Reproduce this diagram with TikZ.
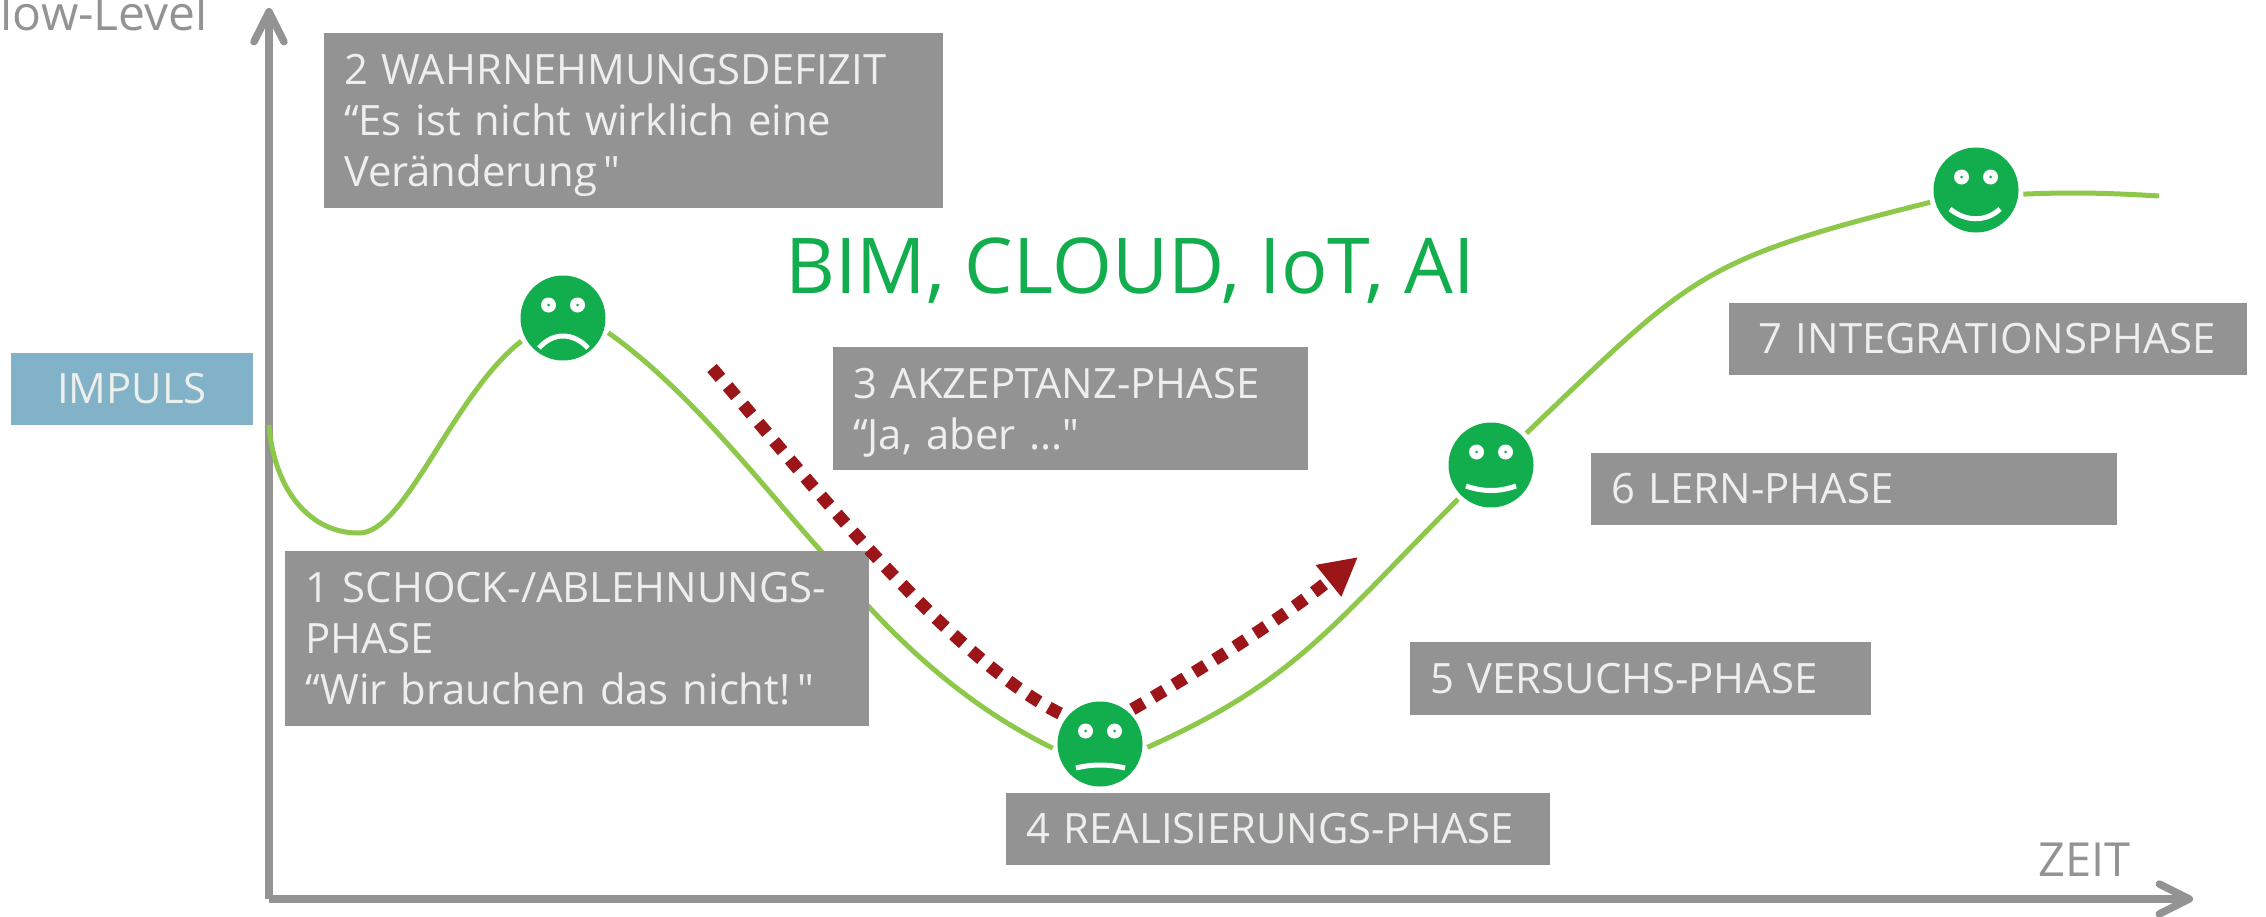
\documentclass[tikz,border=0pt]{standalone}
\usepackage{fontspec}
\newfontfamily\chartfont{Open Sans}
\usetikzlibrary{arrows.meta}
\definecolor{boxgray}{HTML}{939393}
\definecolor{boxtext}{HTML}{EDEFED}
\definecolor{facegreen}{HTML}{12AE4E}
\definecolor{curvegreen}{HTML}{8DC84B}
\definecolor{impulsblue}{HTML}{82B2C7}
\definecolor{dotred}{HTML}{9C1519}

\begin{document}
\begin{tikzpicture}[
    x=1pt, y=-1pt,
    phasenode/.style={fill=boxgray, text=boxtext, font=\chartfont\fontsize{41.8}{51}\selectfont, align=left, anchor=north west, inner xsep=20pt, inner ysep=0pt, outer sep=0pt},
    facenode/.style={circle, fill=facegreen, minimum size=85pt, inner sep=0pt, outer sep=5pt},
    eyenode/.style={circle, fill=white, minimum size=15pt, inner sep=0pt, path picture={\fill[facegreen] (path picture bounding box.center) circle (1.5pt);}},
    mouthline/.style={draw=white, line width=5pt},
    curveline/.style={draw=curvegreen, line width=5pt},
    dotline/.style={draw=dotred, line width=12.5pt, dash pattern=on 13pt off 11pt},
    axisline/.style={draw=boxgray, line width=7.5pt},
    axistext/.style={text=boxgray, font=\chartfont\fontsize{47}{56}\selectfont, inner sep=0pt}
    ]
    \useasboundingbox (0,0) rectangle (2266,916);

    %Axes
    \coordinate (origin) at (269,899);
    \coordinate (ytip) at (269,8);
    \coordinate (xtip) at (2193,899);
    \draw[axisline, -{Straight Barb[round,length=30pt,width=30pt]}] (origin) -- (ytip);
    \draw[axisline, -{Straight Barb[round,length=30pt,width=30pt]}] (origin) -- (xtip);
    \node[axistext, font=\chartfont\fontsize{48}{60}\selectfont, anchor=base east] (flow) at (208,30) {Flow-Level};
    \node[axistext, anchor=base east] (zeit) at (2131,876) {ZEIT};

    %Faces
    \node[facenode] (F1) at (563,318) {};
    \node[facenode] (F4) at (1100,744) {};
    \node[facenode] (F6) at (1491,465) {};
    \node[facenode] (F7) at (1976,190) {};

    %Curve
    \coordinate (start) at (269,425);
    \coordinate (dip) at (358,533);
    \coordinate (down) at (821,551);
    \coordinate (stop) at (2159,196);
    \draw[curveline] (start) .. controls (274,490) and (310,533) .. (dip);
    \draw[curveline] (dip) .. controls (405,535) and (452,395) .. (F1.209);
    \draw[curveline] (F1.-18) .. controls (690,390) and (770,495) .. (down);
    \draw[curveline] (down) .. controls (900,650) and (975,710) .. (F4.185);
    \draw[curveline] (F4.-4) .. controls (1294,682) and (1331,627) .. (F6.226);
    \draw[curveline] (F6.42) .. controls (1693,274) and (1699,260) .. (F7.195);
    \draw[curveline] (F7.-5) .. controls (2070,192) and (2110,193) .. (stop);

    %Boxes
    \node[phasenode, minimum height=175pt, text width=544pt] (phase1) at (285,551) {1 SCHOCK-/ABLEHNUNGS-\\PHASE\\\smash{“Wir brauchen das nicht!\,"}};
    \node[phasenode, minimum height=175pt, text width=579pt] (phase2) at (324,33) {2 WAHRNEHMUNGSDEFIZIT\\“Es ist nicht wirklich eine\\\smash{Veränderung\,"}};
    \node[phasenode, minimum height=123pt, text width=435pt] (phase3) at (833,347) {3 AKZEPTANZ-PHASE\\\smash{“Ja, aber ..."}};
    \node[phasenode, minimum height=72pt, text width=504pt] (phase4) at (1006,793) {4 REALISIERUNGS-PHASE};
    \node[phasenode, minimum height=73pt, text width=421pt] (phase5) at (1410,642) {5 VERSUCHS-PHASE};
    \node[phasenode, minimum height=72pt, text width=486pt] (phase6) at (1591,453) {6 LERN-PHASE};
    \node[phasenode, inner xsep=29pt, minimum height=72pt, text width=460pt] (phase7) at (1729,303) {\mbox{7 INTEGRATIONSPHASE}};
    \node[phasenode, fill=impulsblue, anchor=center, align=center, inner xsep=0pt, minimum height=72pt, text width=242pt] (impuls) at (132,389) {IMPULS};

    %Dotted arrow
    \coordinate (dotstart) at (712,368);
    \coordinate (dottip) at (1358,557);
    \draw[dotline] (dotstart) .. controls (800,470) and (950,660) .. (F4.142);
    \draw[dotline, -{Triangle[length=38pt,width=38pt]}] (F4.47) .. controls (1200,670) and (1280,620) .. (dottip);

    %Heading
    \node[text=facegreen, font=\chartfont\fontsize{77}{85}\selectfont, anchor=base west, inner sep=0pt] (topics) at (785,293) {BIM, CLOUD, IoT, AI};

    %Eyes
    \node[eyenode, xshift=-14.5pt, yshift=13pt] (F1eyeL) at (F1) {};
    \node[eyenode, xshift=14.5pt, yshift=13pt] (F1eyeR) at (F1) {};
    \node[eyenode, xshift=-14.5pt, yshift=13pt] (F4eyeL) at (F4) {};
    \node[eyenode, xshift=14.5pt, yshift=13pt] (F4eyeR) at (F4) {};
    \node[eyenode, xshift=-14.5pt, yshift=13pt] (F6eyeL) at (F6) {};
    \node[eyenode, xshift=14.5pt, yshift=13pt] (F6eyeR) at (F6) {};
    \node[eyenode, xshift=-14.5pt, yshift=13pt] (F7eyeL) at (F7) {};
    \node[eyenode, xshift=14.5pt, yshift=13pt] (F7eyeR) at (F7) {};

    %Mouths
    \draw[mouthline] ([shift={(-24,30)}]F1.center) .. controls ([shift={(-10,14)}]F1.center) and ([shift={(10,14)}]F1.center) .. ([shift={(25,30)}]F1.center);
    \draw[mouthline] ([shift={(-24,24)}]F4.center) .. controls ([shift={(-8,20)}]F4.center) and ([shift={(8,20)}]F4.center) .. ([shift={(25,24)}]F4.center);
    \draw[mouthline] ([shift={(-25,21)}]F6.center) .. controls ([shift={(-8,27)}]F6.center) and ([shift={(8,27)}]F6.center) .. ([shift={(25,21)}]F6.center);
    \draw[mouthline] ([shift={(-26,19)}]F7.center) .. controls ([shift={(-10,32)}]F7.center) and ([shift={(10,32)}]F7.center) .. ([shift={(24,19)}]F7.center);

\end{tikzpicture}
\end{document}
